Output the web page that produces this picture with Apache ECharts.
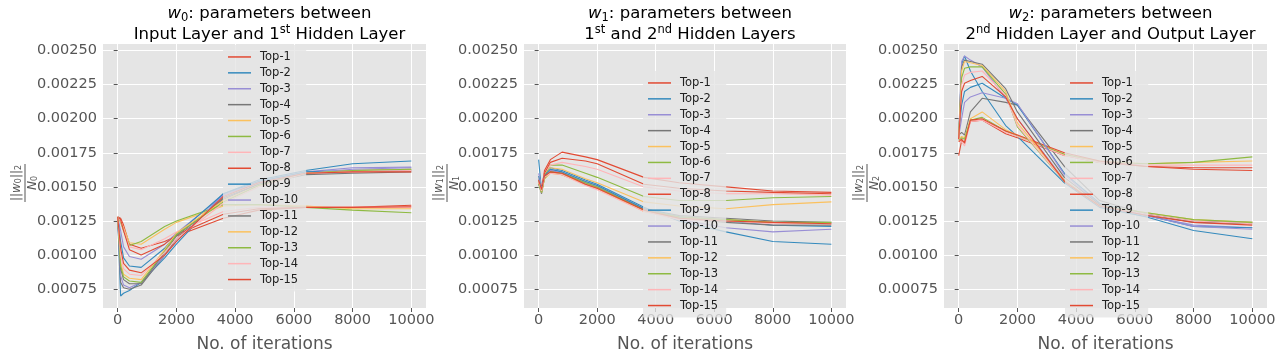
<!DOCTYPE html>
<html>
<head>
<meta charset="utf-8">
<script src="https://cdn.jsdelivr.net/npm/echarts@6/dist/echarts.min.js"></script>
<style>
html, body { margin: 0; padding: 0; background: #fff; }
#chart { width: 1280px; height: 358px; }
</style>
</head>
<body>
<div id="chart"></div>
<script>
// iterations where the norms were sampled
const iters = [0, 100, 200, 400, 800, 1600, 2000, 3600, 4800, 6400, 8000, 10000];

const xTicks = [0, 2000, 4000, 6000, 8000, 10000];
const yTicks = [0.00075, 0.001, 0.00125, 0.0015, 0.00175, 0.002, 0.00225, 0.0025];

// w0: input layer -> 1st hidden layer
const w0Top1 = [0.00128, 0.00127, 0.00122, 0.00108, 0.00105, 0.00110, 0.00114, 0.00127, 0.00133, 0.00135, 0.00135, 0.001365];
const w0Top2 = [0.00128, 0.00070, 0.00072, 0.00074, 0.00080, 0.00098, 0.00108, 0.00145, 0.00155, 0.00162, 0.00167, 0.00169];
const w0Top3 = [0.00128, 0.00118, 0.00106, 0.00099, 0.00097, 0.00108, 0.00116, 0.00144, 0.00154, 0.00161, 0.00164, 0.001645];
const w0Top4 = [0.00128, 0.00080, 0.00076, 0.00075, 0.00078, 0.00100, 0.00112, 0.00142, 0.00152, 0.00160, 0.00161, 0.00162];
const w0Top5 = [0.00128, 0.00125, 0.00120, 0.00109, 0.00108, 0.00119, 0.00124, 0.00136, 0.00137, 0.00136, 0.00134, 0.00134];
const w0Top6 = [0.00128, 0.00124, 0.00118, 0.00107, 0.00110, 0.00121, 0.00125, 0.00137, 0.00137, 0.00135, 0.00133, 0.00131];
const w0Top7 = [0.00128, 0.00125, 0.00119, 0.00106, 0.00104, 0.00112, 0.00117, 0.00132, 0.00135, 0.00135, 0.00135, 0.00135];
const w0Top8 = [0.00128, 0.00126, 0.00118, 0.00104, 0.00100, 0.00108, 0.00115, 0.00130, 0.00134, 0.00135, 0.00135, 0.001355];
const w0Top9 = [0.00128, 0.00110, 0.00098, 0.00092, 0.00091, 0.00105, 0.00115, 0.00145, 0.00154, 0.00161, 0.00162, 0.00163];
const w0Top10 = [0.00128, 0.00085, 0.00078, 0.00076, 0.00080, 0.00100, 0.00110, 0.00144, 0.00153, 0.00160, 0.00163, 0.00164];
const w0Top11 = [0.00128, 0.00090, 0.00082, 0.00079, 0.00079, 0.00102, 0.00114, 0.00141, 0.00152, 0.00159, 0.00160, 0.00161];
const w0Top12 = [0.00128, 0.00095, 0.00086, 0.00083, 0.00082, 0.00104, 0.00116, 0.00140, 0.00151, 0.00160, 0.00162, 0.00163];
const w0Top13 = [0.00128, 0.00092, 0.00084, 0.00081, 0.00080, 0.00103, 0.00115, 0.00139, 0.00151, 0.00160, 0.00162, 0.00163];
const w0Top14 = [0.00128, 0.00100, 0.00090, 0.00086, 0.00085, 0.00102, 0.00112, 0.00138, 0.00150, 0.00160, 0.00161, 0.00162];
const w0Top15 = [0.00128, 0.00105, 0.00094, 0.00089, 0.00087, 0.00100, 0.00110, 0.00143, 0.00153, 0.00160, 0.00161, 0.00161];

// w1: 1st -> 2nd hidden layer
const w1Top1 = [0.00155, 0.00148, 0.00162, 0.00170, 0.001755, 0.00172, 0.00170, 0.00157, 0.00153, 0.00150, 0.00147, 0.00146];
const w1Top2 = [0.00170, 0.00147, 0.00158, 0.00164, 0.00162, 0.00155, 0.00152, 0.00135, 0.00125, 0.00117, 0.00110, 0.00108];
const w1Top3 = [0.00160, 0.00150, 0.00157, 0.00163, 0.00161, 0.00154, 0.00151, 0.00134, 0.00126, 0.00120, 0.00117, 0.00119];
const w1Top4 = [0.00152, 0.00145, 0.00157, 0.00162, 0.00160, 0.00153, 0.00150, 0.00134, 0.00129, 0.00127, 0.00125, 0.00124];
const w1Top5 = [0.00156, 0.00147, 0.00159, 0.00164, 0.00163, 0.00156, 0.00153, 0.00139, 0.00136, 0.00134, 0.00137, 0.00139];
const w1Top6 = [0.00155, 0.00146, 0.00158, 0.00166, 0.00166, 0.00160, 0.00157, 0.00143, 0.00140, 0.00140, 0.00142, 0.00143];
const w1Top7 = [0.00158, 0.00150, 0.00160, 0.00166, 0.00168, 0.00165, 0.00163, 0.00150, 0.00147, 0.00145, 0.00145, 0.00144];
const w1Top8 = [0.00153, 0.00150, 0.00160, 0.00168, 0.00171, 0.00169, 0.00167, 0.00152, 0.00149, 0.00147, 0.00146, 0.00145];
const w1Top9 = [0.00158, 0.00149, 0.00158, 0.00163, 0.00161, 0.00154, 0.00151, 0.00134, 0.00128, 0.00125, 0.00122, 0.00121];
const w1Top10 = [0.00156, 0.00148, 0.00157, 0.00162, 0.00160, 0.00153, 0.00150, 0.00133, 0.00128, 0.00126, 0.00124, 0.00123];
const w1Top11 = [0.00154, 0.00147, 0.00157, 0.00161, 0.00159, 0.00152, 0.00149, 0.00133, 0.00127, 0.00124, 0.00122, 0.00122];
const w1Top12 = [0.00153, 0.00146, 0.00156, 0.00160, 0.00159, 0.00152, 0.00149, 0.00132, 0.00127, 0.00126, 0.00124, 0.00123];
const w1Top13 = [0.00152, 0.00146, 0.00156, 0.00161, 0.00160, 0.00153, 0.00150, 0.00133, 0.00128, 0.00126, 0.00124, 0.00124];
const w1Top14 = [0.00154, 0.00147, 0.00157, 0.00160, 0.00159, 0.00151, 0.00148, 0.00132, 0.00126, 0.00125, 0.00123, 0.00123];
const w1Top15 = [0.00155, 0.00148, 0.00158, 0.00161, 0.00160, 0.00152, 0.00149, 0.00133, 0.00127, 0.00125, 0.00124, 0.00123];

// w2: 2nd hidden layer -> output layer
const w2Top1 = [0.00173, 0.00184, 0.00183, 0.00198, 0.00199, 0.00189, 0.00186, 0.00173, 0.00168, 0.00165, 0.00163, 0.00162];
const w2Top2 = [0.00185, 0.00240, 0.00246, 0.00235, 0.00220, 0.00195, 0.00187, 0.00153, 0.00135, 0.00128, 0.00118, 0.00112];
const w2Top3 = [0.00188, 0.00242, 0.00246, 0.00243, 0.00238, 0.00215, 0.00200, 0.00155, 0.00136, 0.00129, 0.00122, 0.00120];
const w2Top4 = [0.00188, 0.00190, 0.00188, 0.00205, 0.00215, 0.00212, 0.00210, 0.00165, 0.00140, 0.00130, 0.00124, 0.00123];
const w2Top5 = [0.00185, 0.00187, 0.00186, 0.00200, 0.00205, 0.00192, 0.00188, 0.00174, 0.00169, 0.00167, 0.00168, 0.00169];
const w2Top6 = [0.00184, 0.00186, 0.00185, 0.00199, 0.00201, 0.00191, 0.00187, 0.00174, 0.00168, 0.00167, 0.00168, 0.00172];
const w2Top7 = [0.00184, 0.00183, 0.00180, 0.00198, 0.00199, 0.00190, 0.00187, 0.00173, 0.00168, 0.00166, 0.00166, 0.00166];
const w2Top8 = [0.00183, 0.00185, 0.00182, 0.00199, 0.00200, 0.00191, 0.00188, 0.00175, 0.00169, 0.00165, 0.00164, 0.00164];
const w2Top9 = [0.00188, 0.00210, 0.00220, 0.00223, 0.00226, 0.00215, 0.00210, 0.00160, 0.00138, 0.00129, 0.00121, 0.00120];
const w2Top10 = [0.00187, 0.00200, 0.00212, 0.00216, 0.00219, 0.00215, 0.00211, 0.00159, 0.00137, 0.00129, 0.00121, 0.00119];
const w2Top11 = [0.00186, 0.00238, 0.00243, 0.00242, 0.00240, 0.00222, 0.00205, 0.00157, 0.00137, 0.00130, 0.00125, 0.00124];
const w2Top12 = [0.00186, 0.00235, 0.00242, 0.00241, 0.00239, 0.00220, 0.00197, 0.00155, 0.00136, 0.00131, 0.00126, 0.00124];
const w2Top13 = [0.00186, 0.00230, 0.00237, 0.00238, 0.00238, 0.00218, 0.00194, 0.00154, 0.00136, 0.00131, 0.00126, 0.00124];
const w2Top14 = [0.00185, 0.00225, 0.00232, 0.00234, 0.00235, 0.00217, 0.00195, 0.00154, 0.00136, 0.00130, 0.00125, 0.00123];
const w2Top15 = [0.00185, 0.00220, 0.00226, 0.00228, 0.00231, 0.00216, 0.00200, 0.00154, 0.00136, 0.00129, 0.00124, 0.00122];

const panelData = [
  [w0Top1, w0Top2, w0Top3, w0Top4, w0Top5, w0Top6, w0Top7, w0Top8, w0Top9, w0Top10, w0Top11, w0Top12, w0Top13, w0Top14, w0Top15],
  [w1Top1, w1Top2, w1Top3, w1Top4, w1Top5, w1Top6, w1Top7, w1Top8, w1Top9, w1Top10, w1Top11, w1Top12, w1Top13, w1Top14, w1Top15],
  [w2Top1, w2Top2, w2Top3, w2Top4, w2Top5, w2Top6, w2Top7, w2Top8, w2Top9, w2Top10, w2Top11, w2Top12, w2Top13, w2Top14, w2Top15]
];
const names = ["Top-1", "Top-2", "Top-3", "Top-4", "Top-5", "Top-6", "Top-7", "Top-8",
  "Top-9", "Top-10", "Top-11", "Top-12", "Top-13", "Top-14", "Top-15"];

// ggplot colour cycle
const palette = ["#E24A33", "#348ABD", "#988ED5", "#777777", "#FBC15E", "#8EBA42", "#FFB5B8"];
const FONT = "DejaVu Sans";

const grids = [
  { left: 103, top: 44, width: 323, height: 278 },
  { left: 524, top: 44, width: 322, height: 278 },
  { left: 944, top: 44, width: 323, height: 278 }
];
const titles = [
  "{i|w}{sub|0}: parameters between\nInput Layer and 1{sup|st} Hidden Layer",
  "{i|w}{sub|1}: parameters between\n1{sup|st} and 2{sup|nd} Hidden Layers",
  "{i|w}{sub|2}: parameters between\n2{sup|nd} Hidden Layer and Output Layer"
];
const legendPos = [[223, 45], [643, 71], [1065, 71]];
const fracX = [25, 447, 867];

const chart = echarts.init(document.getElementById("chart"));

const titleRich = {
  i: { fontStyle: "italic", fontSize: 16.5, fontFamily: FONT, color: "#000" },
  sub: { fontSize: 11.5, verticalAlign: "bottom", fontFamily: FONT, color: "#000" },
  sup: { fontSize: 11.5, verticalAlign: "top", fontFamily: FONT, color: "#000" }
};
const fracRich = {
  i: { fontStyle: "italic", fontSize: 12, fontFamily: FONT, color: "#555" },
  s: { fontSize: 8, verticalAlign: "bottom", fontFamily: FONT, color: "#555" }
};

let series = [];
panelData.forEach((rows, p) => {
  rows.forEach((vals, k) => {
    const c = palette[k % palette.length];
    series.push({
      name: names[k],
      type: "line",
      xAxisIndex: p,
      yAxisIndex: p,
      data: iters.map((x, i) => [x, vals[i]]),
      showSymbol: false,
      symbol: "none",
      color: c,
      lineStyle: { width: 1.1, color: c },
      itemStyle: { color: c }
    });
  });
});

let graphics = [];
[0, 1, 2].forEach(p => {
  graphics.push({
    type: "group",
    x: fracX[p],
    y: 183,
    rotation: Math.PI / 2,
    children: [
      { type: "text", x: 0, y: -2, style: { text: "||{i|w}{s|" + p + "}||{s|2}", rich: fracRich, fontSize: 12, fontFamily: FONT, fill: "#555", align: "center", verticalAlign: "bottom" } },
      { type: "line", shape: { x1: -19, y1: 0, x2: 19, y2: 0 }, style: { stroke: "#555", lineWidth: 1 } },
      { type: "text", x: 0, y: 2, style: { text: "{i|N}{s|" + p + "}", rich: fracRich, fontSize: 12, fontFamily: FONT, fill: "#555", align: "center", verticalAlign: "top" } }
    ]
  });
});

const option = {
  animation: false,
  backgroundColor: "#fff",
  title: titles.map((t, p) => ({
    text: t,
    left: grids[p].left + grids[p].width / 2,
    top: -2,
    textAlign: "center",
    textStyle: { fontFamily: FONT, fontSize: 16.5, fontWeight: "normal", color: "#000", lineHeight: 21, rich: titleRich }
  })),
  grid: grids.map(g => Object.assign({ show: true, backgroundColor: "#E5E5E5", borderWidth: 0 }, g)),
  legend: legendPos.map(pos => ({
    data: names,
    orient: "vertical",
    left: pos[0],
    top: pos[1],
    icon: "rect",
    itemWidth: 23,
    itemHeight: 1.5,
    itemGap: 0,
    padding: [4, 8, 4, 5],
    backgroundColor: "rgba(229,229,229,0.8)",
    selectedMode: false,
    textStyle: { fontFamily: FONT, fontSize: 11.5, color: "#222", lineHeight: 15.9, padding: [0, 0, 0, 4] }
  })),
  xAxis: [0, 1, 2].map(p => ({
    gridIndex: p,
    type: "value",
    min: -500,
    max: 10500,
    axisLine: { show: false },
    axisTick: { show: true, length: 4, lineStyle: { color: "#555" }, customValues: xTicks },
    axisLabel: { customValues: xTicks, color: "#555", fontSize: 14.5, margin: 5, fontFamily: FONT, formatter: v => String(v) },
    splitLine: { show: true, lineStyle: { color: "#fff", width: 1 } },
    name: "No. of iterations",
    nameLocation: "middle",
    nameGap: 28,
    nameTextStyle: { fontFamily: FONT, fontSize: 17, color: "#555" }
  })),
  yAxis: [0, 1, 2].map(p => ({
    gridIndex: p,
    type: "value",
    min: 0.000612,
    max: 0.002548,
    axisLine: { show: false },
    axisTick: { show: true, length: 4, lineStyle: { color: "#555" }, customValues: yTicks },
    axisLabel: { customValues: yTicks, color: "#555", fontSize: 14.5, margin: 6, fontFamily: FONT, formatter: v => v.toFixed(5) },
    splitLine: { show: true, lineStyle: { color: "#fff", width: 1 } }
  })),
  graphic: graphics,
  series: series
};

chart.setOption(option);
</script>
</body>
</html>
